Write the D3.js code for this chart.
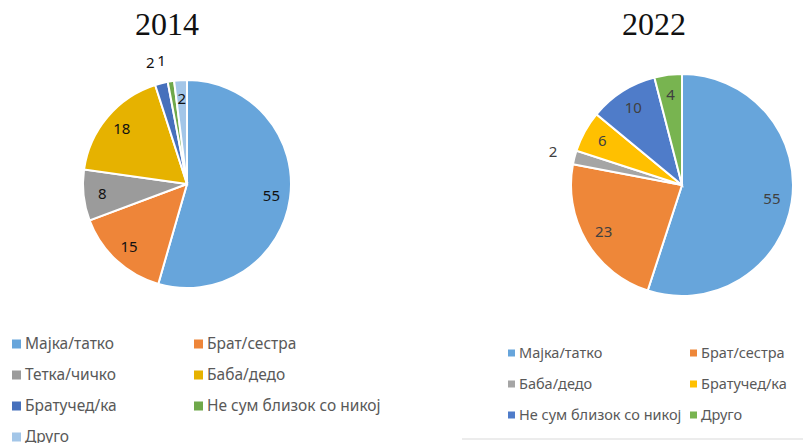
<!DOCTYPE html>
<html>
<head>
<meta charset="utf-8">
<script src="https://cdn.jsdelivr.net/npm/d3@7"></script>
<style>
  body { margin: 0; background: #fff; }
  svg { display: block; }
  .title { font-family: "Liberation Serif", "Times New Roman", serif; font-size: 32px; fill: #111; }
  .legend text { font-family: "Noto Sans", "Open Sans", sans-serif; fill: #595959; }
  .lbl { font-family: "Noto Sans", "Open Sans", sans-serif; font-size: 15px; }
</style>
</head>
<body>
<svg id="chart" width="803" height="443"></svg>
<script>
const width = 803;
const height = 443;

// 2014
const categories2014 = ["Мајка/татко", "Брат/сестра", "Тетка/чичко", "Баба/дедо", "Братучед/ка", "Не сум близок со никој", "Друго"];
const values2014 = [55, 15, 8, 18, 2, 1, 2];
const colors2014 = ["#67A5DB", "#EE8539", "#9B9B9B", "#E6B200", "#4670BC", "#6FA84A", "#A3C6E8"];

// 2022
const categories2022 = ["Мајка/татко", "Брат/сестра", "Баба/дедо", "Братучед/ка", "Не сум близок со никој", "Друго"];
const values2022 = [55, 23, 2, 6, 10, 4];
const colors2022 = ["#67A5DB", "#EE8739", "#A5A5A5", "#FFC000", "#4F7CC9", "#78B450"];

const svg = d3.select("#chart");

function drawPie(cfg) {
    const g = svg.append("g").attr("transform", "translate(" + cfg.cx + "," + cfg.cy + ")");
    const pie = d3.pie().sort(null).value(function (d) { return d; });
    const arcs = pie(cfg.values);
    const arc = d3.arc().innerRadius(0).outerRadius(cfg.r);
    const labelArc = d3.arc().innerRadius(cfg.r * 0.82).outerRadius(cfg.r * 0.82);
    const outArc = d3.arc().innerRadius(cfg.r * 1.2).outerRadius(cfg.r * 1.2);

    g.selectAll("path").data(arcs).enter()
        .append("path")
        .attr("d", arc)
        .attr("fill", function (d, i) { return cfg.colors[i]; })
        .attr("stroke", "#fff")
        .attr("stroke-width", 2);

    g.selectAll("text.lbl").data(arcs).enter()
        .append("text")
        .attr("class", "lbl")
        .attr("transform", function (d, i) {
            const a = cfg.outside.includes(i) ? outArc : labelArc;
            return "translate(" + a.centroid(d) + ")";
        })
        .attr("text-anchor", "middle")
        .attr("dx", function (d, i) { return cfg.outside.includes(i) ? cfg.outsideDx : 0; })
        .attr("dy", "0.35em")
        .attr("fill", cfg.labelColor)
        .text(function (d) { return d.data; });

    svg.append("text")
        .attr("class", "title")
        .attr("x", cfg.titleX)
        .attr("y", 35)
        .attr("text-anchor", "middle")
        .text(cfg.title);
}

function drawLegend(cfg) {
    const lg = svg.append("g").attr("class", "legend");
    const items = lg.selectAll("g").data(cfg.categories).enter()
        .append("g")
        .attr("transform", function (d, i) {
            const col = i % 2;
            const row = Math.floor(i / 2);
            return "translate(" + cfg.colX[col] + "," + (cfg.y0 + row * cfg.rowH) + ")";
        });
    items.append("rect")
        .attr("x", 0)
        .attr("y", -cfg.box / 2)
        .attr("width", cfg.box)
        .attr("height", cfg.box)
        .attr("fill", function (d, i) { return cfg.colors[i]; });
    items.append("text")
        .attr("x", cfg.box + 4)
        .attr("dy", "0.35em")
        .style("font-size", cfg.fontSize + "px")
        .text(function (d) { return d; });
}

drawPie({ cx: 187, cy: 184, r: 104, values: values2014, colors: colors2014,
    outside: [4, 5], outsideDx: -6, labelColor: "#111", title: "2014", titleX: 167 });
drawPie({ cx: 682, cy: 185, r: 111, values: values2022, colors: colors2022,
    outside: [2], outsideDx: 0, labelColor: "#404040", title: "2022", titleX: 654 });

drawLegend({ categories: categories2014, colors: colors2014, colX: [12, 194], y0: 344, rowH: 31, box: 9, fontSize: 15.5 });
drawLegend({ categories: categories2022, colors: colors2022, colX: [508, 690], y0: 353, rowH: 31, box: 7, fontSize: 14.5 });

svg.append("line")
    .attr("x1", 462).attr("x2", 803)
    .attr("y1", 439).attr("y2", 439)
    .attr("stroke", "#d9d9d9")
    .attr("stroke-width", 1);
</script>
</body>
</html>
